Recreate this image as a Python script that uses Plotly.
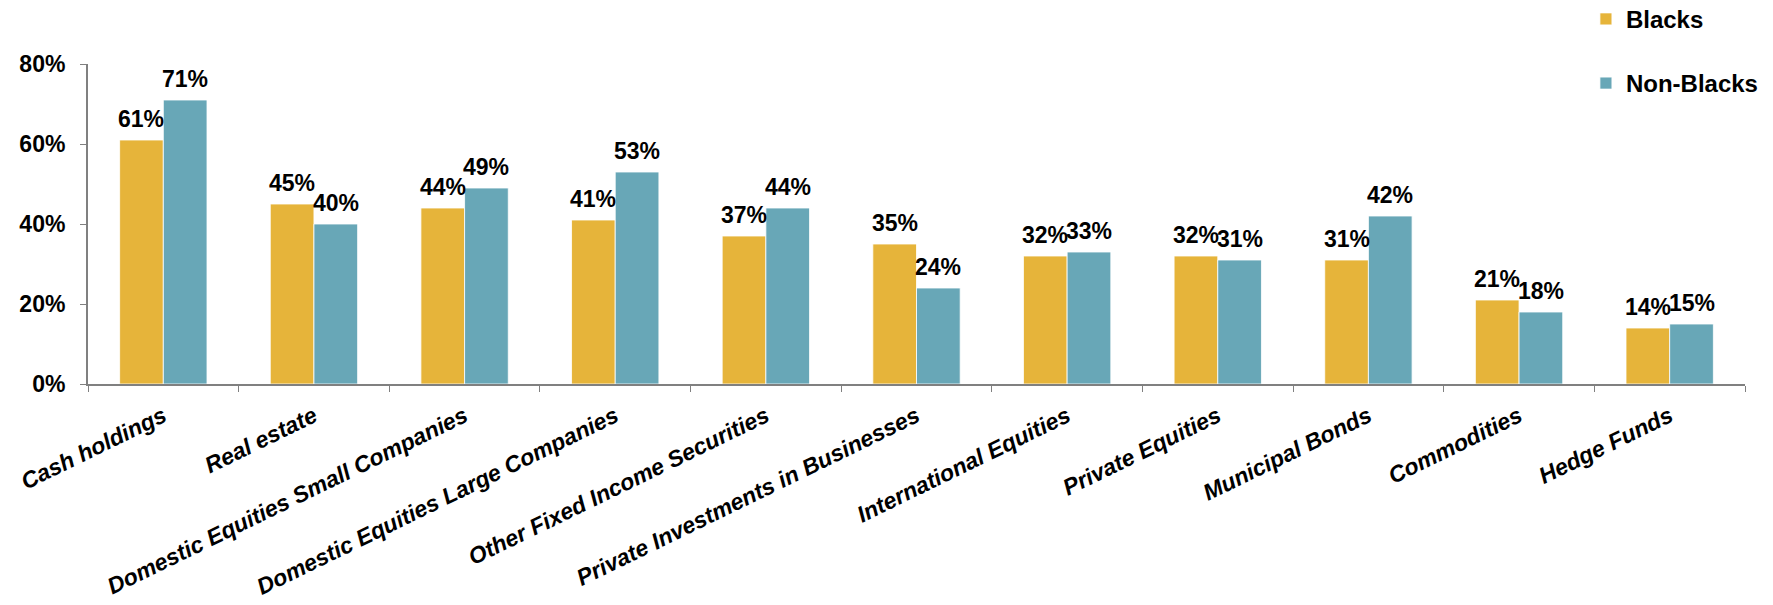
import plotly.graph_objects as go

# Share of investors holding each asset type, by group (percent)
categories = [
    "Cash holdings",
    "Real estate",
    "Domestic Equities Small Companies",
    "Domestic Equities Large Companies",
    "Other Fixed Income Securities",
    "Private Investments in Businesses",
    "International Equities",
    "Private Equities",
    "Municipal Bonds",
    "Commodities",
    "Hedge Funds",
]
blacks = [61, 45, 44, 41, 37, 35, 32, 32, 31, 21, 14]
non_blacks = [71, 40, 49, 53, 44, 24, 33, 31, 42, 18, 15]
y_ticks = [0, 20, 40, 60, 80]
y_tick_labels = [f"{v}%" for v in y_ticks]

series = [
    ("Blacks", blacks, "#E6B43A"),
    ("Non-Blacks", non_blacks, "#68A7B7"),
]

W, H = 1773, 605
M_L, M_R, M_T, M_B = 88, 28, 64, 221
BARGAP = 0.42
FONT = "Liberation Sans, Arial, sans-serif"

fig = go.Figure()
for i, (name, vals, color) in enumerate(series):
    fig.add_trace(go.Bar(
        name=name,
        x=categories,
        y=vals,
        marker=dict(color=color, line=dict(color="rgba(255,255,255,0.8)", width=1)),
        legendgroup=name,
    ))

# Value labels above each bar
plot_w = W - M_L - M_R
cat_w = plot_w / len(categories)
bar_w = cat_w * (1 - BARGAP) / len(series)
for i, (name, vals, color) in enumerate(series):
    offset = (i - (len(series) - 1) / 2) * bar_w
    for cat, v in zip(categories, vals):
        fig.add_annotation(
            x=cat, y=v, xref="x", yref="y",
            text=f"{v}%", showarrow=False,
            xshift=offset, yshift=21, yanchor="middle",
            font=dict(family=FONT, size=23, color="#000000", weight="bold"),
        )

fig.update_layout(
    width=W, height=H,
    margin=dict(l=M_L, r=M_R, t=M_T, b=M_B, autoexpand=False),
    paper_bgcolor="white",
    plot_bgcolor="white",
    barmode="group",
    bargap=BARGAP,
    bargroupgap=0,
    font=dict(family=FONT, color="#000000"),
    legend=dict(
        x=0.904, y=1.21, xanchor="left", yanchor="top",
        font=dict(family=FONT, size=24, color="#000000", weight="bold"),
        tracegroupgap=30,
        bgcolor="rgba(0,0,0,0)",
        itemwidth=30,
    ),
    showlegend=True,
)

fig.update_xaxes(
    type="category",
    showgrid=False,
    showline=True, linecolor="#808080", linewidth=2,
    ticks="outside", tickson="boundaries", ticklen=6, tickcolor="#808080", tickwidth=1,
    tickangle=-26,
    tickfont=dict(family=FONT, size=23, color="#000000", weight="bold", style="italic"),
    ticklabelstandoff=8,
)
fig.update_yaxes(
    range=[0, 80],
    tickvals=y_ticks,
    ticktext=y_tick_labels,
    showgrid=False, zeroline=False,
    showline=True, linecolor="#808080", linewidth=2,
    ticks="outside", ticklen=6, tickcolor="#808080", tickwidth=1,
    tickfont=dict(family=FONT, size=23, color="#000000", weight="bold"),
    ticklabelstandoff=10,
)

fig.write_html("out.html")
